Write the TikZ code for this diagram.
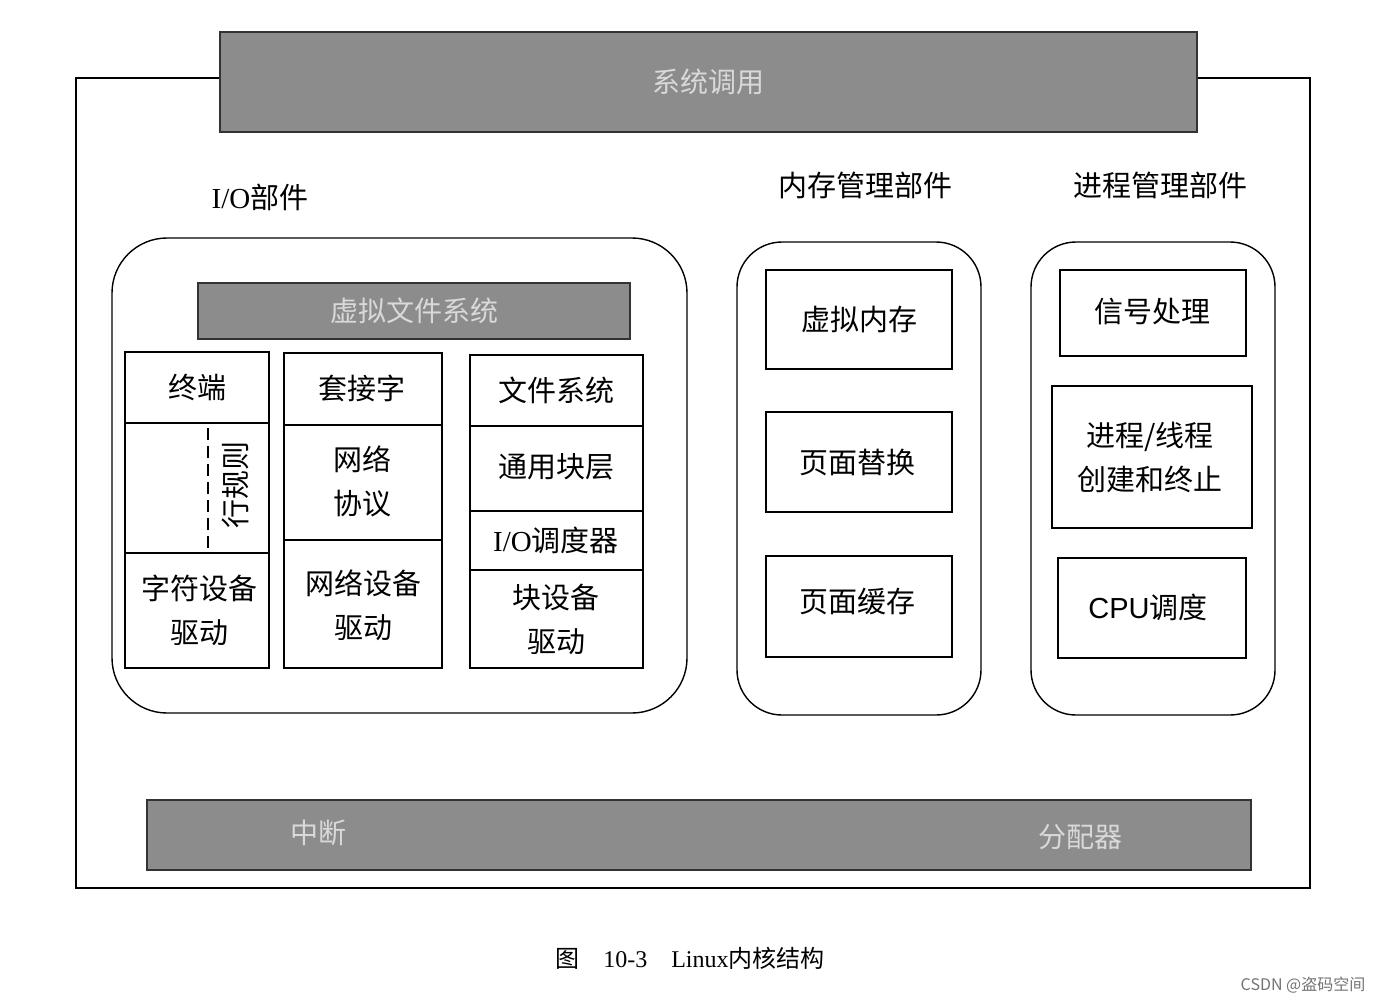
\documentclass[tikz,border=0pt]{standalone}
\usepackage{fontspec}
\setmainfont{Liberation Serif}
\newfontfamily\cjk{Noto Sans CJK SC}
\begin{document}
\begin{tikzpicture}[x=1pt,y=-1pt,
  bar/.style={draw=black!80,line width=1.6pt,fill=black!45},
  bartxt/.style={font=\cjk\fontsize{28}{30}\selectfont,text=white!85!black},
  cell/.style={draw,line width=1.4pt},
  txt/.style={font=\cjk\fontsize{29}{44}\selectfont,align=center},
  grp/.style={draw,line width=1.4pt,rounded corners=55pt}]
\useasboundingbox (0,0) rectangle (1392,1004);
\draw[line width=1.4pt] (76,78) rectangle (1310,888);
\node[bar,minimum width=977pt,minimum height=100pt,inner sep=0pt] (sys) at (708.5,82) {};
\node[bartxt] (syst) at (sys) {系统调用};
\node[bar,minimum width=1104pt,minimum height=70pt,inner sep=0pt] (bot) at (699,835) {};
\node[bartxt] (irq) at (318,833) {中断};
\node[bartxt] (alloc) at (1080,837) {分配器};
\node[txt] (lio) at (260,197) {\fontspec{Liberation Serif}I/O{\cjk 部件}};
\node[txt] (lmem) at (865,185) {内存管理部件};
\node[txt] (lproc) at (1160,185) {进程管理部件};
\draw[grp] (112,238) rectangle (687,713);
\draw[grp,rounded corners=45pt] (737,242) rectangle (981,715);
\draw[grp,rounded corners=45pt] (1031,242) rectangle (1275,715);
\node[bar,minimum width=432pt,minimum height=56pt,inner sep=0pt] (vfs) at (414,311) {};
\node[bartxt] (vfst) at (vfs) {虚拟文件系统};
% column 1
\draw[cell] (125,352) rectangle (269,423); \node[txt] (c1a) at (197,387) {终端};
\draw[cell] (125,423) rectangle (269,553);
\draw[line width=1.4pt,dash pattern=on 12pt off 6pt] (208,428) -- (208,548);
\node[txt,rotate=90] (c1b) at (236,485) {行规则};
\draw[cell] (125,553) rectangle (269,668); \node[txt] (c1c) at (199,610) {字符设备\\驱动};
% column 2
\draw[cell] (284,353) rectangle (442,425); \node[txt] (c2a) at (362,388) {套接字};
\draw[cell] (284,425) rectangle (442,540); \node[txt] (c2b) at (362,481) {网络\\协议};
\draw[cell] (284,540) rectangle (442,668); \node[txt] (c2c) at (363,605) {网络设备\\驱动};
% column 3
\draw[cell] (470,355) rectangle (643,426); \node[txt] (c3a) at (556,390) {文件系统};
\draw[cell] (470,426) rectangle (643,511); \node[txt] (c3b) at (556,467) {通用块层};
\draw[cell] (470,511) rectangle (643,570); \node[txt] (c3c) at (556,540) {{\fontspec{Liberation Serif}I/O}调度器};
\draw[cell] (470,570) rectangle (643,668); \node[txt] (c3d) at (556,619) {块设备\\驱动};
% memory
\draw[cell] (766,270) rectangle (952,369); \node[txt] (m1) at (859,320) {虚拟内存};
\draw[cell] (766,412) rectangle (952,512); \node[txt] (m2) at (857,462) {页面替换};
\draw[cell] (766,556) rectangle (952,657); \node[txt] (m3) at (857,602) {页面缓存};
% process
\draw[cell] (1060,270) rectangle (1246,356); \node[txt] (p1) at (1152,312) {信号处理};
\draw[cell] (1052,386) rectangle (1252,528); \node[txt] (p2) at (1150,457) {进程/线程\\创建和终止};
\draw[cell] (1058,558) rectangle (1246,658); \node[txt] (p3) at (1148,607) {{\fontspec{Liberation Sans}CPU}调度};
\node[font=\fontsize{24}{26}\selectfont] (cap) at (690,958) {{\cjk 图}\quad 10-3\quad Linux{\cjk 内核结构}};
\node[font=\cjk\fontsize{16}{18}\selectfont,text=black!55] (wm) at (1303,985) {CSDN @盗码空间};
\end{tikzpicture}
\end{document}
